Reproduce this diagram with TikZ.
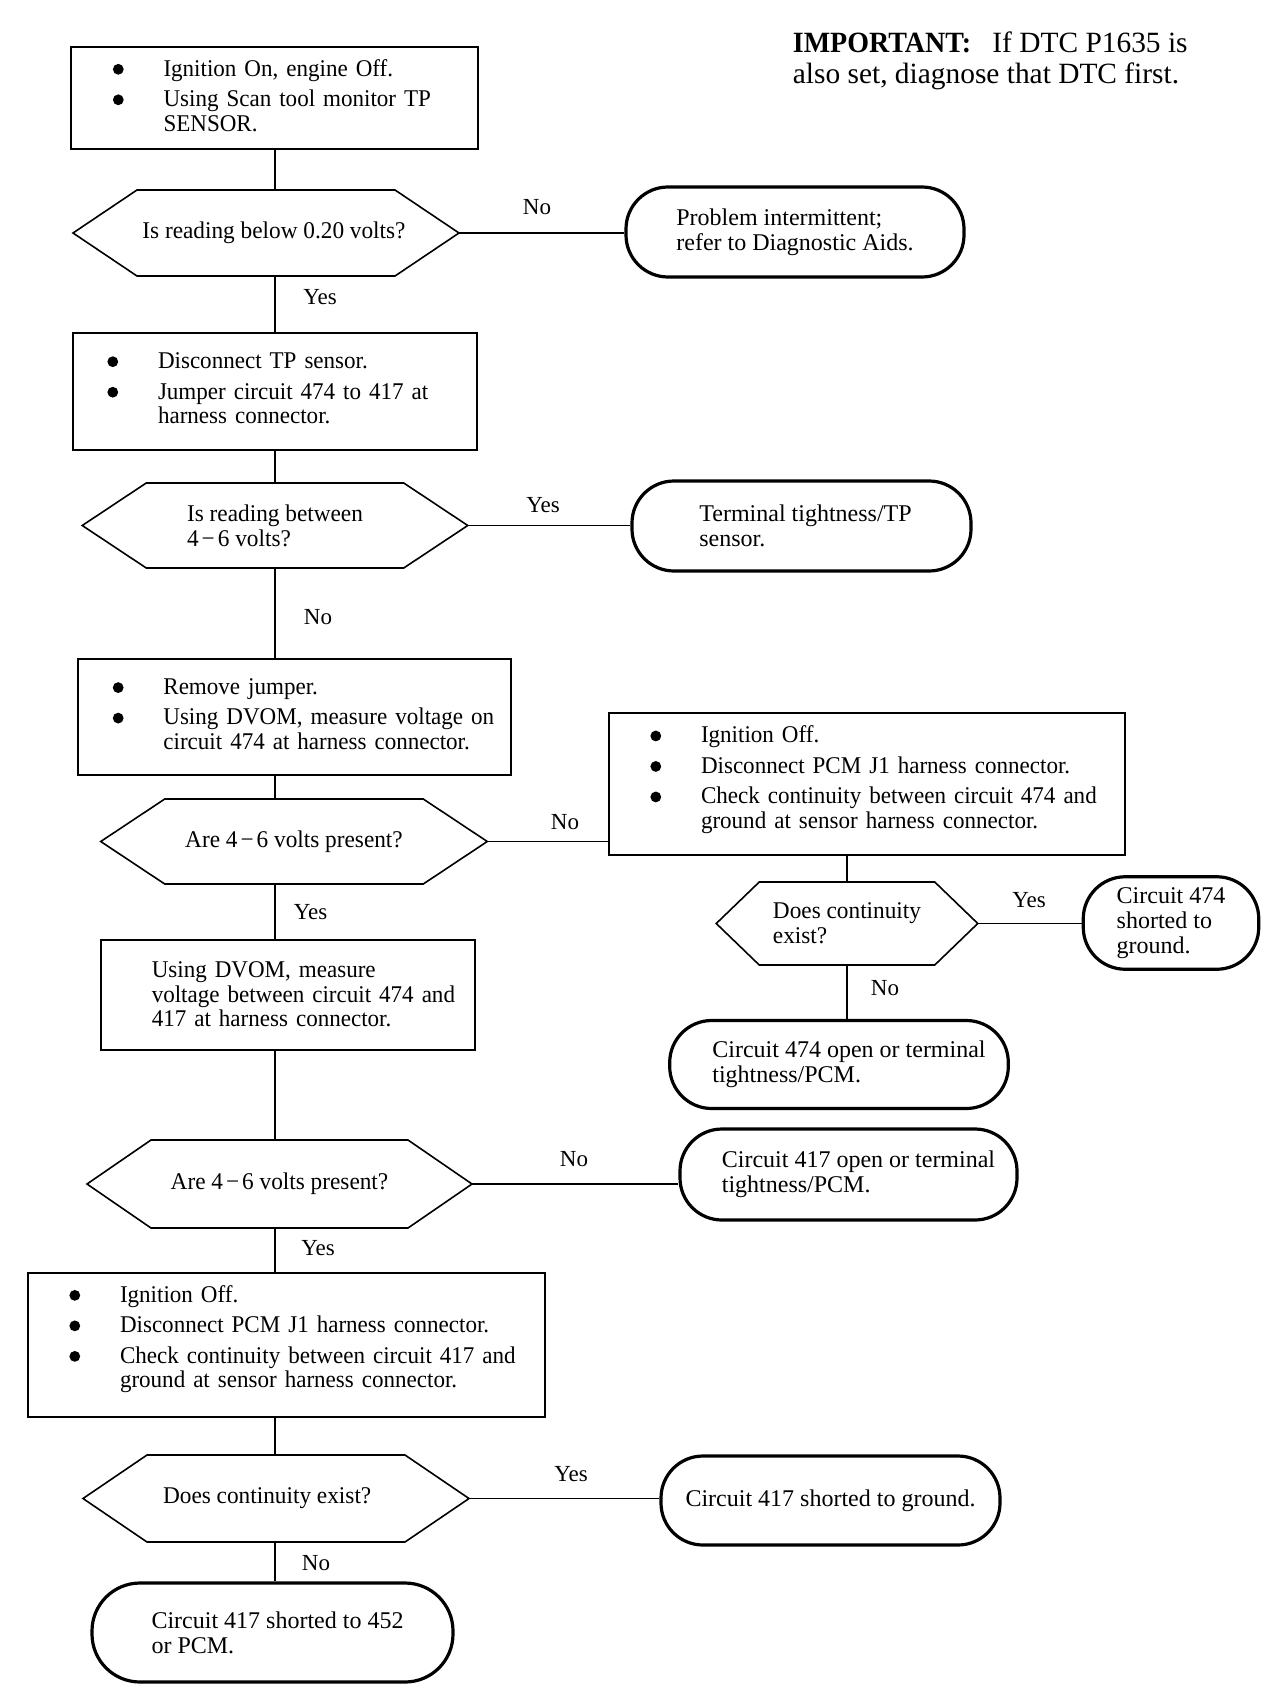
\documentclass[tikz,border=0pt]{standalone}
\usepackage{fontspec}
\setmainfont{Liberation Serif}
\newfontfamily\boxfont{Liberation Serif}[FakeStretch=0.96]
\newfontfamily\hexfont{Liberation Serif}[FakeStretch=0.97]
\newfontfamily\impbold{Liberation Serif}[FakeStretch=0.952]
\newcommand{\bu}{\makebox[25.3pt][l]{\tikz[baseline=0pt]\fill (2.9pt,3.4pt) circle (2.7pt);}}
\newcommand{\ind}{\hspace*{25.3pt}}
\newcommand{\mdash}{\kern1.5pt−\kern1.5pt}
\newcommand{\up}[2]{\raisebox{#1}[\height][\depth]{#2}}
\newcommand{\hexdraw}[2]{\draw[hexline] (#1.west) -- ([xshift=#2]#1.north west) -- ([xshift=-#2]#1.north east) -- (#1.east) -- ([xshift=-#2]#1.south east) -- ([xshift=#2]#1.south west) -- cycle;}
\tikzset{
  box/.style={draw, line width=1pt, align=left, inner xsep=0pt, inner ysep=0pt, font=\boxfont\fontsize{12}{12.25}\selectfont},
  term/.style={draw, line width=1.6pt, rounded corners=21pt, align=left, inner sep=0pt, font=\fontsize{12}{12.5}\selectfont},
  hexn/.style={inner sep=0pt, outer sep=0pt, font=\hexfont\fontsize{12}{12.5}\selectfont},
  hexline/.style={line width=0.8pt, line join=miter},
  conn/.style={line width=0.9pt},
  lbl/.style={font=\fontsize{11.5}{12}\selectfont, inner sep=0pt},
}
\begin{document}
\begin{tikzpicture}[x=0.5pt, y=-0.5pt]
\useasboundingbox[fill=white] (0,0) rectangle (1280,1702);
\coordinate (spine) at (275,0);

% important note
\node[anchor=base west, inner sep=0pt, font=\fontsize{14.7}{15}\selectfont] (imp1) at (792.5,53) {{\impbold\bfseries IMPORTANT:}\hspace{10.6pt}If DTC P1635 is};
\node[anchor=base west, inner sep=0pt, font=\fontsize{14.7}{15}\selectfont] (imp2) at (792.5,83.5) {also set, diagnose that DTC first.};

% boxes
\node[box, minimum width=203.5pt, minimum height=51pt, text width=203.5pt] (b1) at (274,97.7)
  {\up{-0.5pt}{\begin{tabular}{@{\hspace{21.2pt}}l@{}}\bu Ignition On, engine Off.\\[3pt]\bu Using Scan tool monitor TP\\\ind SENSOR.\end{tabular}}};
\node[box, minimum width=202pt, minimum height=58.5pt, text width=202pt] (b2) at (275,391.5)
  {\up{0.2pt}{\begin{tabular}{@{\hspace{17.2pt}}l@{}}\bu Disconnect TP sensor.\\[3pt]\bu Jumper circuit 474 to 417 at\\\ind harness connector.\end{tabular}}};
\node[box, minimum width=216.5pt, minimum height=58pt, text width=216.5pt] (b3) at (294.5,717)
  {\up{0pt}{\begin{tabular}{@{\hspace{17.4pt}}l@{}}\bu Remove jumper.\\[3pt]\bu Using DVOM, measure voltage on\\\ind circuit 474 at harness connector.\end{tabular}}};
\node[box, minimum width=258pt, minimum height=71.25pt, text width=258pt] (b4) at (867,784)
  {\up{1.7pt}{\begin{tabular}{@{\hspace{20.7pt}}l@{}}\bu Ignition Off.\\[3pt]\bu Disconnect PCM J1 harness connector.\\[3pt]\bu Check continuity between circuit 474 and\\\ind ground at sensor harness connector.\end{tabular}}};
\node[box, minimum width=187.25pt, minimum height=55pt, text width=187.25pt] (b5) at (288,995)
  {\up{-1.1pt}{\begin{tabular}{@{\hspace{25.5pt}}l@{}}Using DVOM, measure\\voltage between circuit 474 and\\417 at harness connector.\end{tabular}}};
\node[box, minimum width=258.5pt, minimum height=71.75pt, text width=258.5pt] (b6) at (286.5,1345)
  {\up{2.5pt}{\begin{tabular}{@{\hspace{20.7pt}}l@{}}\bu Ignition Off.\\[3pt]\bu Disconnect PCM J1 harness connector.\\[3pt]\bu Check continuity between circuit 417 and\\\ind ground at sensor harness connector.\end{tabular}}};

% decisions
\node[hexn, minimum width=193pt, minimum height=43pt] (h1) at (266,233) {\hspace{8pt}Is reading below 0.20 volts?};
\hexdraw{h1}{32pt}
\node[hexn, minimum width=192.75pt, minimum height=42.5pt, align=left] (h2) at (275,525.5) {Is reading between\\4\mdash 6 volts?};
\hexdraw{h2}{32pt}
\node[hexn, minimum width=193.25pt, minimum height=42.5pt] (h3) at (294,841.5) {Are 4\mdash 6 volts present?};
\hexdraw{h3}{32pt}
\node[hexn, minimum width=130.75pt, minimum height=41.5pt, align=left] (h4) at (847,923.5) {Does continuity\\exist?};
\hexdraw{h4}{21.5pt}
\node[hexn, minimum width=192.5pt, minimum height=44pt] (h5) at (279.5,1184) {Are 4\mdash 6 volts present?};
\hexdraw{h5}{32pt}
\node[hexn, minimum width=193pt, minimum height=43.5pt] (h6) at (276,1498.5) {Does continuity exist?\rule{8.8pt}{0pt}};
\hexdraw{h6}{32pt}

% terminals
\node[term, minimum width=169pt, minimum height=45pt] (o1) at (795,232) {Problem intermittent;\\refer to Diagnostic Aids.};
\node[term, minimum width=169.5pt, minimum height=45pt] (o2) at (801.5,526) {\rule{4pt}{0pt}Terminal tightness/TP\\\rule{4pt}{0pt}sensor.};
\node[term, minimum width=87.75pt, minimum height=46.25pt] (o4) at (1171,923) {Circuit 474\\shorted to\\ground.};
\node[term, minimum width=169.3pt, minimum height=44pt] (o5) at (839,1064.5) {\rule{10pt}{0pt}Circuit 474 open or terminal\\\rule{10pt}{0pt}tightness/PCM.};
\node[term, minimum width=168.5pt, minimum height=45.5pt] (o6) at (848.5,1174.5) {\rule{10pt}{0pt}Circuit 417 open or terminal\\\rule{10pt}{0pt}tightness/PCM.};
\node[term, minimum width=169.5pt, minimum height=44.5pt] (o7) at (830.5,1500.5) {Circuit 417 shorted to ground.};
\node[term, minimum width=180.5pt, minimum height=49.5pt, rounded corners=24pt] (o8) at (272.5,1632.5) {\rule{5pt}{0pt}Circuit 417 shorted to 452\\\rule{5pt}{0pt}or PCM.};

% connectors
\draw[conn] (b1.south -| spine) -- (h1.north -| spine);
\draw[conn] (h1.south -| spine) -- (b2.north -| spine);
\draw[conn] (b2.south -| spine) -- (h2.north -| spine);
\draw[conn] (h2.south -| spine) -- (b3.north -| spine);
\draw[conn] (b3.south -| spine) -- (h3.north -| spine);
\draw[conn] (h3.south -| spine) -- (b5.north -| spine);
\draw[conn] (b5.south -| spine) -- (h5.north -| spine);
\draw[conn] (h5.south -| spine) -- (b6.north -| spine);
\draw[conn] (b6.south -| spine) -- (h6.north -| spine);
\draw[conn] (h6.south -| spine) -- (o8.north -| spine);
\draw[conn] (h1.east) -- (h1.east -| o1.west);
\draw[conn] (h2.east) -- (h2.east -| o2.west);
\draw[conn] (h3.east) -- (h3.east -| b4.west);
\draw[conn] (b4.south -| h4.north) -- (h4.north);
\draw[conn] (h4.east) -- (h4.east -| o4.west);
\draw[conn] (h4.south) -- (h4.south |- o5.north);
\draw[conn] (h5.east) -- (h5.east -| o6.west);
\draw[conn] (h6.east) -- (h6.east -| o7.west);

% labels
\node[lbl] (l1) at (537,207) {No};
\node[lbl] (l2) at (320,297) {Yes};
\node[lbl] (l3) at (543,505) {Yes};
\node[lbl] (l4) at (318,617) {No};
\node[lbl] (l5) at (565,822) {No};
\node[lbl] (l6) at (310.5,912) {Yes};
\node[lbl] (l7) at (1029,900) {Yes};
\node[lbl] (l8) at (885,988) {No};
\node[lbl] (l9) at (574,1159.5) {No};
\node[lbl] (l10) at (318,1248.5) {Yes};
\node[lbl] (l11) at (571,1474) {Yes};
\node[lbl] (l12) at (316,1563) {No};
\end{tikzpicture}
\end{document}
